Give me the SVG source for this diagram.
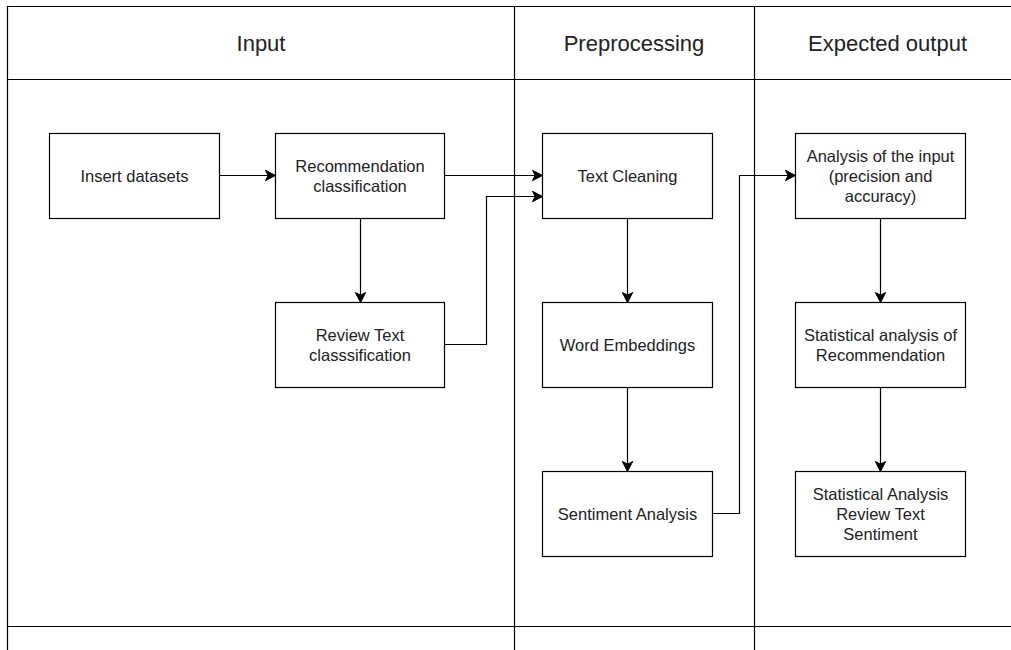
<svg xmlns="http://www.w3.org/2000/svg" width="1011" height="650" viewBox="0 0 1011 650">
<style>
.lane{fill:none;stroke:#000;stroke-width:1.2}
.box{fill:#fff;stroke:#000;stroke-width:1.2}
.t{font-family:"Liberation Sans",Arial,sans-serif;font-size:16.5px;fill:#222;text-anchor:middle}
.h{font-family:"Liberation Sans",Arial,sans-serif;font-size:22px;fill:#222;text-anchor:middle}
.c{fill:none;stroke:#000;stroke-width:1.2}
</style>
<defs>
<marker id="arr" markerUnits="userSpaceOnUse" markerWidth="14" markerHeight="14" viewBox="0 0 14 14" refX="12" refY="7" orient="auto">
<path d="M2,1.8 L12,7 L2,12.2 L4.6,7 Z" fill="#000" stroke="#000" stroke-width="1"/>
</marker>
</defs>
<rect width="1011" height="650" fill="#fff"/>
<g id="lanes">
<path class="lane" d="M1030,6.5 H7.5 V650 M7.5,79.5 H1030 M514.5,6.5 V650 M754.5,6.5 V650 M7.5,626.5 H1030"/>
<text class="h" x="261" y="50.5">Input</text>
<text class="h" x="634" y="50.5">Preprocessing</text>
<text class="h" x="887.5" y="50.5">Expected output</text>
</g>
<g id="connectors">
<path class="c" d="M219.5,175.5 H275.5" marker-end="url(#arr)"/>
<path class="c" d="M444.5,175.5 H542.5" marker-end="url(#arr)"/>
<path class="c" d="M444.5,344.5 H486.5 V196.5 H542.5" marker-end="url(#arr)"/>
<path class="c" d="M360.5,218.5 V302.5" marker-end="url(#arr)"/>
<path class="c" d="M627.5,218.5 V302.5" marker-end="url(#arr)"/>
<path class="c" d="M627.5,387.5 V471.5" marker-end="url(#arr)"/>
<path class="c" d="M712.5,513.5 H739.5 V175.5 H795.5" marker-end="url(#arr)"/>
<path class="c" d="M880.5,218.5 V302.5" marker-end="url(#arr)"/>
<path class="c" d="M880.5,387.5 V471.5" marker-end="url(#arr)"/>
</g>
<g id="insert">
<rect class="box" x="49.5" y="133.5" width="170" height="85"/>
<text class="t" x="134.5" y="181.5">Insert datasets</text>
</g>
<g id="recommendation">
<rect class="box" x="275.5" y="133.5" width="169" height="85"/>
<text class="t" x="360" y="171.5">Recommendation</text>
<text class="t" x="360" y="191.5">classification</text>
</g>
<g id="review">
<rect class="box" x="275.5" y="302.5" width="169" height="85"/>
<text class="t" x="360" y="340.5">Review Text</text>
<text class="t" x="360" y="360.5">classsification</text>
</g>
<g id="cleaning">
<rect class="box" x="542.5" y="133.5" width="170" height="85"/>
<text class="t" x="627.5" y="181.5">Text Cleaning</text>
</g>
<g id="embeddings">
<rect class="box" x="542.5" y="302.5" width="170" height="85"/>
<text class="t" x="627.5" y="350.5">Word Embeddings</text>
</g>
<g id="sentiment">
<rect class="box" x="542.5" y="471.5" width="170" height="85"/>
<text class="t" x="627.5" y="519.5">Sentiment Analysis</text>
</g>
<g id="analysis">
<rect class="box" x="795.5" y="133.5" width="170" height="85"/>
<text class="t" x="880.5" y="161.5">Analysis of the input</text>
<text class="t" x="880.5" y="181.5">(precision and</text>
<text class="t" x="880.5" y="201.5">accuracy)</text>
</g>
<g id="statrec">
<rect class="box" x="795.5" y="302.5" width="170" height="85"/>
<text class="t" x="880.5" y="340.5">Statistical analysis of</text>
<text class="t" x="880.5" y="360.5">Recommendation</text>
</g>
<g id="statreview">
<rect class="box" x="795.5" y="471.5" width="170" height="85"/>
<text class="t" x="880.5" y="499.5">Statistical Analysis</text>
<text class="t" x="880.5" y="519.5">Review Text</text>
<text class="t" x="880.5" y="539.5">Sentiment</text>
</g>
</svg>
